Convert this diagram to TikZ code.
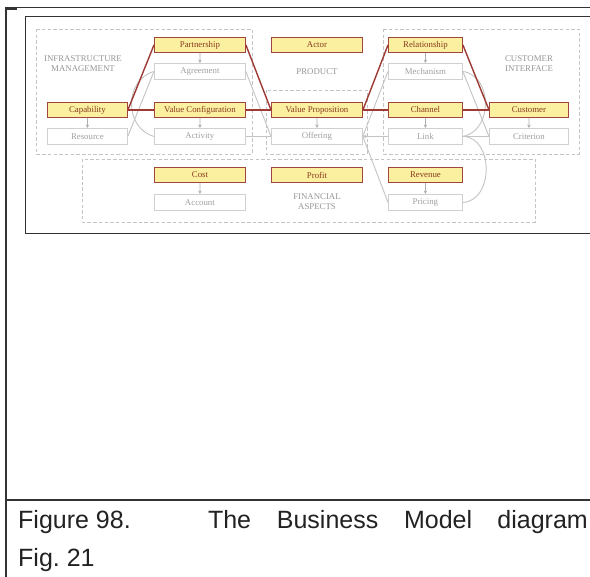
\documentclass[tikz,border=0pt]{standalone}
\usepackage{fontspec}
\setmainfont{Liberation Serif}
\newfontfamily\capfont{Liberation Sans}
\usetikzlibrary{arrows.meta}
\definecolor{yfill}{HTML}{FAF0A0}
\definecolor{ybord}{HTML}{A0463C}
\definecolor{ytext}{HTML}{8A3A1E}
\definecolor{redc}{HTML}{9E3A34}
\definecolor{gbord}{HTML}{D0D0D0}
\definecolor{gtext}{HTML}{A0A0A0}
\definecolor{glc}{HTML}{C4C4C4}
\definecolor{arrc}{HTML}{B0B0B0}
\definecolor{dashc}{HTML}{C4C4C4}
\definecolor{lblc}{HTML}{969696}
\definecolor{framec}{HTML}{333333}
\definecolor{captc}{HTML}{222222}
\frenchspacing
\begin{document}
\begin{tikzpicture}[x=1pt,y=-1pt,
  ybox/.style={draw=ybord, line width=0.9pt, fill=yfill, text=ytext, inner sep=0pt, anchor=north west, font=\fontsize{8.8}{10}\selectfont},
  gbox/.style={draw=gbord, line width=0.8pt, fill=white, text=gtext, inner sep=0pt, anchor=north west, font=\fontsize{8.8}{10}\selectfont},
  grp/.style={draw=dashc, line width=0.9pt, dash pattern=on 3.5pt off 2.2pt},
  lbl/.style={text=lblc, align=center, inner sep=0pt, font=\fontsize{8.8}{10}\selectfont},
  rl/.style={draw=redc, line width=1.4pt},
  gl/.style={draw=glc, line width=0.9pt},
  sub/.style={draw=arrc, line width=0.8pt, -{Stealth[length=3.5pt,width=3.5pt]}},
  captxt/.style={text=captc, inner sep=0pt, font=\capfont\fontsize{25}{30}\selectfont},
]
\useasboundingbox (0,0) rectangle (590,577);
\fill[white] (0,0) rectangle (590,577);

% frames
\fill[framec] (5,7) rectangle (7,577);
\draw[framec, line width=1pt] (5,7.5) -- (590,7.5);
\fill[framec] (5,7) rectangle (17,10);
\draw[framec, line width=0.9pt] (590,16) -- (25,16) -- (25,233) -- (590,233);
\draw[framec, line width=2pt] (5,500) -- (590,500);

% groups
\draw[grp] (36,29) rectangle (252,154);
\draw[grp] (266,90) rectangle (367,154);
\draw[grp] (383,29) rectangle (579,154);
\draw[grp] (82,159) rectangle (535,222);

\node[lbl] (lim) at (83,64) {INFRASTRUCTURE\\MANAGEMENT};
\node[lbl] (lpr) at (317,72) {PRODUCT};
\node[lbl] (lci) at (529,64) {CUSTOMER\\INTERFACE};
\node[lbl] (lfa) at (317,202) {FINANCIAL\\ASPECTS};

% boxes
\node[ybox, minimum width=91pt, minimum height=15pt] (part) at (154,37) {Partnership};
\node[gbox, minimum width=91pt, minimum height=16pt] (agr) at (154,63) {Agreement};
\node[ybox, minimum width=80pt, minimum height=15pt] (capb) at (47,102) {Capability};
\node[gbox, minimum width=80pt, minimum height=16pt] (res) at (47,128) {Resource};
\node[ybox, minimum width=91pt, minimum height=15pt] (vc) at (154,102) {Value Configuration};
\node[gbox, minimum width=91pt, minimum height=16pt] (act) at (154,128) {Activity};
\node[ybox, minimum width=91pt, minimum height=15pt] (cost) at (154,167) {Cost};
\node[gbox, minimum width=91pt, minimum height=16pt] (acc) at (154,194) {Account};
\node[ybox, minimum width=91pt, minimum height=15pt] (actor) at (271,37) {Actor};
\node[ybox, minimum width=91pt, minimum height=15pt] (vp) at (271,102) {Value Proposition};
\node[gbox, minimum width=91pt, minimum height=16pt] (off) at (271,128) {Offering};
\node[ybox, minimum width=91pt, minimum height=15pt] (prof) at (271,167) {Profit};
\node[ybox, minimum width=74pt, minimum height=15pt] (rel) at (388,37) {Relationship};
\node[gbox, minimum width=74pt, minimum height=16pt] (mech) at (388,63) {Mechanism};
\node[ybox, minimum width=74pt, minimum height=15pt] (chan) at (388,102) {Channel};
\node[gbox, minimum width=74pt, minimum height=16pt] (link) at (388,128) {Link};
\node[ybox, minimum width=74pt, minimum height=15pt] (rev) at (388,167) {Revenue};
\node[gbox, minimum width=74pt, minimum height=16pt] (pric) at (388,194) {Pricing};
\node[ybox, minimum width=79pt, minimum height=15pt] (cust) at (489,102) {Customer};
\node[gbox, minimum width=79pt, minimum height=16pt] (crit) at (489,128) {Criterion};

% sub arrows
\draw[sub] (part.south) -- (agr.north);
\draw[sub] (capb.south) -- (res.north);
\draw[sub] (vc.south) -- (act.north);
\draw[sub] (cost.south) -- (acc.north);
\draw[sub] (vp.south) -- (off.north);
\draw[sub] (rel.south) -- (mech.north);
\draw[sub] (chan.south) -- (link.north);
\draw[sub] (rev.south) -- (pric.north);
\draw[sub] (cust.south) -- (crit.north);

% gray connectors
\draw[gl] (res.east) -- (agr.west);
\draw[gl] (agr.west) .. controls (124,80) and (124,128) .. (act.west);
\draw[gl] (act.east) -- (off.west);
\draw[gl] (agr.east) -- (off.west);
\draw[gl] (mech.west) -- (off.east);
\draw[gl] (pric.west) -- (off.east);
\draw[gl, -{Stealth[length=4pt,width=4pt]}] (link.west) -- (off.east);
\draw[gl] (mech.east) -- (crit.west);
\draw[gl] (mech.east) .. controls (493,76) and (493,131) .. (link.east);
\draw[gl] (link.east) -- (crit.west);
\draw[gl] (link.east) .. controls (494,137) and (494,201) .. (pric.east);

% red connectors
\draw[rl] (capb.east) -- (part.west);
\draw[rl] (capb.east) -- (vc.west);
\draw[rl] (part.east) -- (vp.west);
\draw[rl] (vc.east) -- (vp.west);
\draw[rl] (vp.east) -- (rel.west);
\draw[rl] (vp.east) -- (chan.west);
\draw[rl] (rel.east) -- (cust.west);
\draw[rl] (chan.east) -- (cust.west);

% caption
\node[captxt, anchor=base west] (c1) at (18,529) {Figure 98.};
\node[captxt, anchor=base west] (c2) at (207.8,529) {The};
\node[captxt, anchor=base west] (c3) at (276.7,529) {Business};
\node[captxt, anchor=base west] (c4) at (403.9,529) {Model};
\node[captxt, anchor=base east] (c5) at (588,529) {diagram};
\node[captxt, anchor=base west] (c6) at (18,567) {Fig. 21};
\end{tikzpicture}
\end{document}
